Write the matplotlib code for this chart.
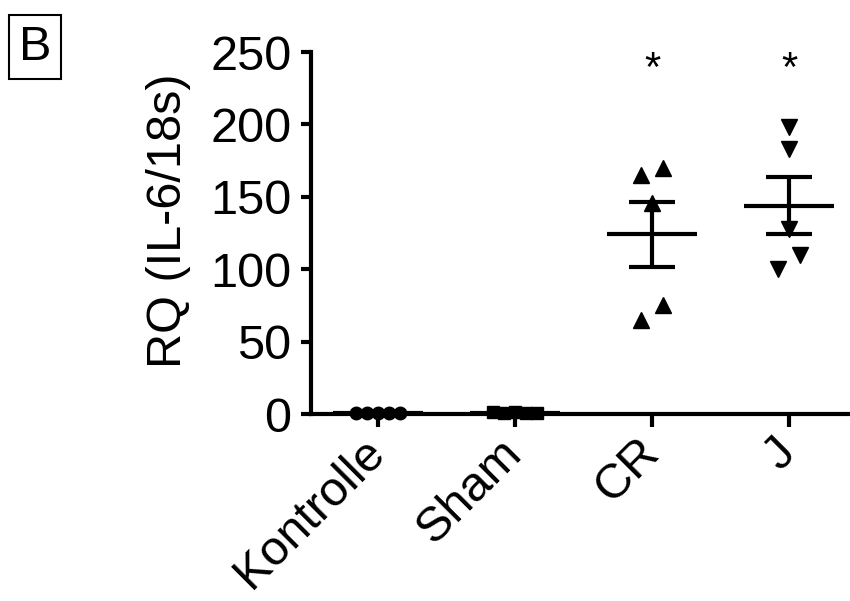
import numpy as np
import matplotlib.pyplot as plt

plt.rcParams['font.family'] = ['Liberation Sans', 'DejaVu Sans']

# group names and measured RQ values (IL-6 / 18s)
groups = ["Kontrolle", "Sham", "CR", "J"]
kontrolle = [1.0, 1.0, 1.0, 1.0, 1.0]
sham = [1.2, 0.9, 1.1, 1.0, 0.8]
cr = [165, 170, 146, 75, 65]
j = [198, 183, 128, 110, 100]
significant = [False, False, True, True]

values = [kontrolle, sham, cr, j]
markers = ["o", "s", "^", "v"]
# horizontal scatter of the points inside each column
jitter = [
    [-0.16, -0.08, 0.0, 0.08, 0.16],
    [-0.16, -0.08, 0.0, 0.08, 0.16],
    [-0.08, 0.08, 0.0, 0.08, -0.08],
    [0.0, 0.0, 0.0, 0.08, -0.08],
]

fig = plt.figure(figsize=(8.5, 6.01), dpi=100)
ax = fig.add_axes([311 / 850, 187 / 601, 1 - 311 / 850, 362 / 601])

lw = 3
for i, (vals, m, off) in enumerate(zip(values, markers, jitter)):
    vals = np.array(vals, dtype=float)
    xs = i + np.array(off)
    ms = 11 if m in "^v" else 9
    ax.plot(xs, vals, linestyle="none", marker=m, color="black", markersize=ms, clip_on=False, zorder=3)
    mean = vals.mean()
    sem = vals.std(ddof=1) / np.sqrt(len(vals))
    ax.hlines(mean, i - 0.33, i + 0.33, color="black", linewidth=lw, zorder=4)
    ax.vlines(i, mean - sem, mean + sem, color="black", linewidth=lw, zorder=4)
    ax.hlines([mean - sem, mean + sem], i - 0.17, i + 0.17, color="black", linewidth=lw, zorder=4)
    if significant[i]:
        ax.text(i, 230, "*", ha="center", va="baseline", fontsize=30)

ax.set_xlim(-0.49, 3.445)
ax.set_ylim(0, 250)
ax.set_yticks([0, 50, 100, 150, 200, 250])
ax.set_xticks(range(len(groups)))
ax.set_xticklabels(groups, rotation=45, ha="right", va="center", rotation_mode="anchor")

for side in ["top", "right"]:
    ax.spines[side].set_visible(False)
ax.spines["left"].set_linewidth(lw)
ax.spines["bottom"].set_linewidth(lw)
ax.tick_params(axis="y", width=lw, length=7, labelsize=35, pad=7)
ax.tick_params(axis="x", width=lw, length=9, labelsize=35, pad=14)

ax.set_ylabel("RQ (IL-6/18s)", fontsize=35)
ax.yaxis.set_label_coords(-0.222, 0.535)

fig.text(35 / 850, 1 - 47 / 601, "B", fontsize=35, ha="center", va="center",
         bbox=dict(boxstyle="square,pad=0.2", facecolor="white", edgecolor="black", linewidth=1.5))

fig.savefig("out.png", dpi=100)
